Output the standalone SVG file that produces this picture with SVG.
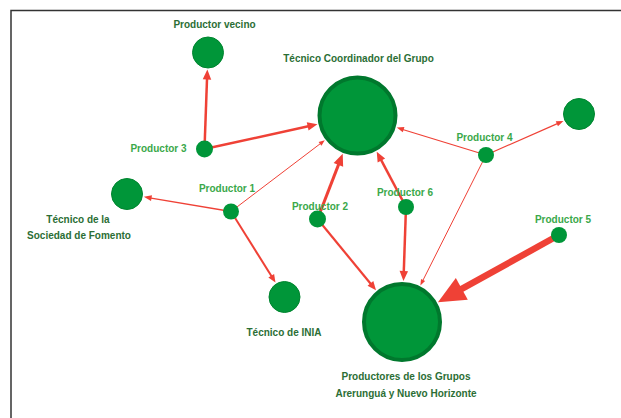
<svg xmlns="http://www.w3.org/2000/svg" width="621" height="418" viewBox="0 0 621 418">
<style>
.e{stroke:#ef4136;fill:none;stroke-linecap:butt}
.n{fill:#009639}
.big{stroke:#00782d;stroke-width:4}
.mid{stroke:#00852f;stroke-width:1}
.t{font-family:"Liberation Sans",Arial,sans-serif;font-weight:bold;font-size:10px;text-anchor:middle}
.dk{fill:#2b6e35}
.lt{fill:#3aa84a}
</style>
<defs>
<marker id="arrow" markerUnits="strokeWidth" markerWidth="4" markerHeight="3.4" refX="1.2" refY="1.7" orient="auto" overflow="visible"><path d="M0,0 L4,1.7 L0,3.4 z" fill="#ef4136"/></marker>
<marker id="thin" markerUnits="strokeWidth" markerWidth="6" markerHeight="4.6" refX="1.5" refY="2.3" orient="auto" overflow="visible"><path d="M0,0 L6,2.3 L0,4.6 z" fill="#ef4136"/></marker>
<marker id="bigA" markerUnits="strokeWidth" markerWidth="4.2" markerHeight="3.8" refX="1.2" refY="1.9" orient="auto" overflow="visible"><path d="M0,0 L4.2,1.9 L0,3.8 z" fill="#ef4136"/></marker>
</defs>
<path d="M11,418 V10.5 H621" fill="none" stroke="#333" stroke-width="1.5"/>
<g id="connectors">
<line class="e" x1="204.5" y1="149" x2="207.1" y2="76.5" stroke-width="2.5" marker-end="url(#arrow)"/>
<line class="e" x1="204.5" y1="149" x2="310.6" y2="125.8" stroke-width="2.5" marker-end="url(#arrow)"/>
<line class="e" x1="231" y1="211.5" x2="321.2" y2="143" stroke-width="1" marker-end="url(#thin)"/>
<line class="e" x1="231" y1="211.5" x2="149.6" y2="197.8" stroke-width="1.3" marker-end="url(#thin)"/>
<line class="e" x1="231" y1="211.5" x2="272.5" y2="277.8" stroke-width="2" marker-end="url(#arrow)"/>
<line class="e" x1="317.5" y1="219" x2="339.7" y2="161.6" stroke-width="3" marker-end="url(#arrow)"/>
<line class="e" x1="317.5" y1="219" x2="372.1" y2="285.5" stroke-width="2.2" marker-end="url(#arrow)"/>
<line class="e" x1="406" y1="207" x2="380" y2="157.9" stroke-width="2.5" marker-end="url(#arrow)"/>
<line class="e" x1="406" y1="207" x2="403.7" y2="274" stroke-width="2.5" marker-end="url(#arrow)"/>
<line class="e" x1="486" y1="155" x2="401.9" y2="129.2" stroke-width="1.2" marker-end="url(#thin)"/>
<line class="e" x1="486" y1="155" x2="558.5" y2="123.1" stroke-width="1.2" marker-end="url(#thin)"/>
<line class="e" x1="486" y1="155" x2="422.4" y2="281.4" stroke-width="1" marker-end="url(#thin)"/>
<line class="e" x1="559" y1="235" x2="455" y2="292.7" stroke-width="6.5" marker-end="url(#bigA)"/>
</g>
<g id="productor-vecino"><circle class="n mid" cx="208" cy="52.5" r="15.5"/><text class="t dk" x="214.5" y="27.5">Productor vecino</text></g>
<g id="tecnico-coordinador"><circle class="n big" cx="357.5" cy="115.5" r="38"/><text class="t dk" x="358.5" y="61.5">Técnico Coordinador del Grupo</text></g>
<g id="nodo-derecha"><circle class="n mid" cx="579" cy="114" r="15.5"/></g>
<g id="productor-3"><circle class="n" cx="204.5" cy="149" r="8.5"/><text class="t lt" x="158.5" y="151.5">Productor 3</text></g>
<g id="productor-4"><circle class="n" cx="486" cy="155" r="8"/><text class="t lt" x="484.5" y="140.5">Productor 4</text></g>
<g id="tecnico-sociedad"><circle class="n mid" cx="127" cy="194" r="15.5"/><text class="t dk" x="78" y="222.5">Técnico de la</text><text class="t dk" x="79" y="238.5">Sociedad de Fomento</text></g>
<g id="productor-1"><circle class="n" cx="231" cy="211.5" r="8"/><text class="t lt" x="227" y="191.5">Productor 1</text></g>
<g id="productor-2"><circle class="n" cx="317.5" cy="219" r="8.5"/><text class="t lt" x="320" y="209.5">Productor 2</text></g>
<g id="productor-6"><circle class="n" cx="406" cy="207" r="8"/><text class="t lt" x="405" y="195.5">Productor 6</text></g>
<g id="productor-5"><circle class="n" cx="559" cy="235" r="8"/><text class="t lt" x="563" y="222.5">Productor 5</text></g>
<g id="tecnico-inia"><circle class="n mid" cx="284.5" cy="297" r="15.5"/><text class="t dk" x="284" y="336">Técnico de INIA</text></g>
<g id="productores-grupos"><circle class="n big" cx="402" cy="322" r="38"/><text class="t dk" x="406" y="379.5">Productores de los Grupos</text><text class="t dk" x="406" y="396.5">Arerunguá y Nuevo Horizonte</text></g>
</svg>
